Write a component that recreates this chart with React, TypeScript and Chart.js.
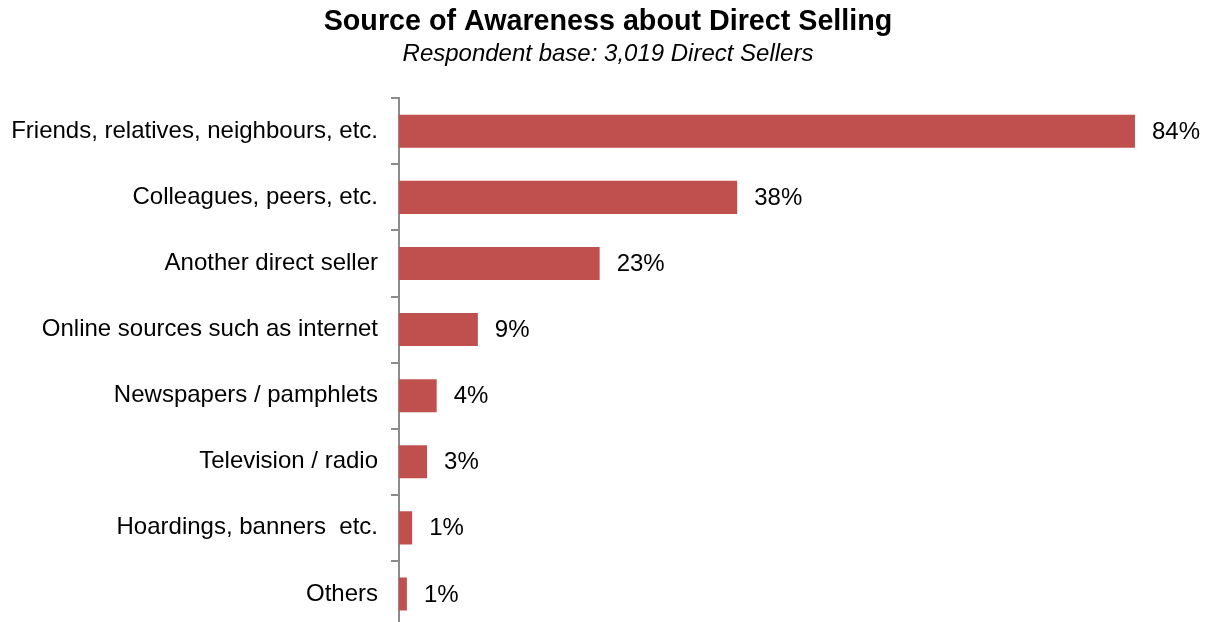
import React, { useEffect, useRef } from "react";
import { Chart, registerables } from "chart.js";

Chart.register(...registerables);

const categories = [
  "Friends, relatives, neighbours, etc.",
  "Colleagues, peers, etc.",
  "Another direct seller",
  "Online sources such as internet",
  "Newspapers / pamphlets",
  "Television / radio",
  "Hoardings, banners  etc.",
  "Others",
];
const values = [84, 38.6, 22.9, 9.0, 4.3, 3.2, 1.5, 0.9];
const valueLabels = ["84%", "38%", "23%", "9%", "4%", "3%", "1%", "1%"];

const titleText = "Source of Awareness about Direct Selling";
const subtitleText = "Respondent base: 3,019 Direct Sellers";

const FONT = "'Liberation Sans', Arial, sans-serif";
const AXIS_X = 399;

const dataLabelPlugin = {
  id: "dataLabels",
  afterDatasetsDraw(chart: any) {
    const ctx = chart.ctx;
    const meta = chart.getDatasetMeta(0);
    ctx.save();
    ctx.font = `24px ${FONT}`;
    ctx.fillStyle = "#000";
    ctx.textAlign = "left";
    ctx.textBaseline = "middle";
    meta.data.forEach((bar: any, i: number) => {
      ctx.fillText(valueLabels[i], bar.x + 17, bar.y + 1);
    });
    ctx.restore();
  },
};

export default function App() {
  const ref = useRef<HTMLCanvasElement>(null);
  useEffect(() => {
    if (!ref.current) return;
    const chart = new Chart(ref.current, {
      type: "bar",
      data: {
        labels: categories,
        datasets: [
          {
            data: values,
            backgroundColor: "#c0504d",
            borderWidth: 0,
            barPercentage: 0.5,
            categoryPercentage: 1,
          },
        ],
      },
      options: {
        indexAxis: "y",
        responsive: false,
        animation: false,
        layout: { padding: { left: 0, right: -9, top: 0, bottom: 3 } },
        plugins: {
          legend: { display: false },
          tooltip: { enabled: false },
          title: {
            display: true,
            text: titleText,
            color: "#000",
            font: { family: FONT, size: 28.7, weight: "bold", lineHeight: 1.2 },
            padding: { top: 5, bottom: 0 },
          },
          subtitle: {
            display: true,
            text: subtitleText,
            color: "#000",
            font: { family: FONT, size: 24, style: "italic", lineHeight: 1.2 },
            padding: { top: 0, bottom: 30 },
          },
        },
        scales: {
          x: {
            display: false,
            min: 0,
            max: 92.22,
          },
          y: {
            afterFit: (scale: any) => {
              scale.width = AXIS_X;
              scale.paddingTop = 0;
              scale.paddingBottom = 0;
            },
            border: { display: true, color: "#8c8c8c", width: 2 },
            grid: {
              display: true,
              drawOnChartArea: false,
              drawTicks: true,
              tickLength: 8,
              color: "#8c8c8c",
              lineWidth: 2,
              offset: true,
            },
            ticks: {
              color: "#000",
              padding: 13,
              font: { family: FONT, size: 24 },
            },
          },
        },
      },
      plugins: [dataLabelPlugin],
    });
    return () => chart.destroy();
  }, []);
  return (
    <div
      style={{
        position: "fixed",
        left: 0,
        top: 0,
        width: 1207,
        height: 622,
        overflow: "hidden",
        background: "#fff",
      }}
    >
      <canvas ref={ref} width={1207} height={630} style={{ display: "block" }} />
    </div>
  );
}
